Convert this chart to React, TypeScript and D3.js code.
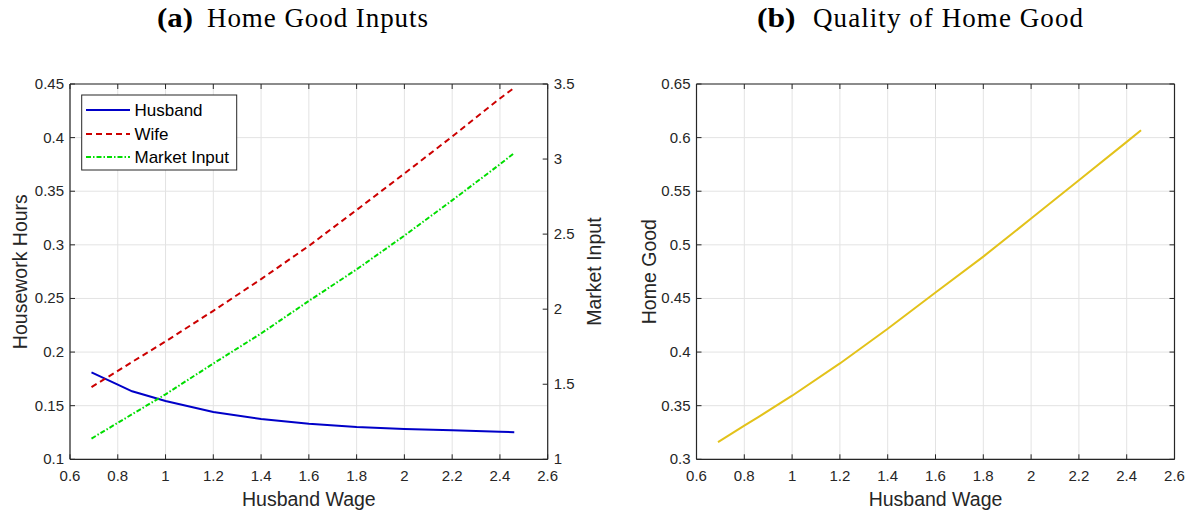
import React from "react";
import * as d3 from "d3";

// ---- data ----
const wage = [0.69, 0.8, 0.86, 1.0, 1.2, 1.4, 1.6, 1.8, 2.0, 2.2, 2.4, 2.46];
const husbandHours = [0.181, 0.1697, 0.1634, 0.1543, 0.1441, 0.1376, 0.1332, 0.1301, 0.1283, 0.1271, 0.1257, 0.1253];
const wifeHours = [0.1674, 0.1824, 0.1908, 0.2099, 0.2385, 0.268, 0.299, 0.3325, 0.3665, 0.401, 0.4365, 0.4465];
const marketInput = [1.138, 1.243, 1.3, 1.433, 1.638, 1.838, 2.055, 2.265, 2.49, 2.725, 2.965, 3.04];
const homeGood = [0.3161, 0.3314, 0.3396, 0.3593, 0.3894, 0.4217, 0.4556, 0.489, 0.5245, 0.5602, 0.596, 0.6068];

const xTicks = [0.6, 0.8, 1, 1.2, 1.4, 1.6, 1.8, 2, 2.2, 2.4, 2.6];
const hoursTicks = [0.1, 0.15, 0.2, 0.25, 0.3, 0.35, 0.4, 0.45];
const marketTicks = [1, 1.5, 2, 2.5, 3, 3.5];
const homeTicks = [0.3, 0.35, 0.4, 0.45, 0.5, 0.55, 0.6, 0.65];

const legendLabels = ["Husband", "Wife", "Market Input"];

const AX = "#262626";
const GRID = "#e3e3e3";
const SANS = "'Liberation Sans', Arial, Helvetica, sans-serif";
const SERIF = "'Liberation Serif', 'Times New Roman', serif";
const TICK_FS = 15;
const LABEL_FS = 19.5;
const TL = 5;

const BLUE = "#0000c8";
const RED = "#cc0000";
const GREEN = "#00dd00";
const YELLOW = "#e3c21a";

const fmt = (v: number) => String(+v.toFixed(3));

const top = 84;
const bottom = 459.3;

function Panel(props: {
  left: number;
  right: number;
  yDomain: [number, number];
  yTicks: number[];
  children: (x: d3.ScaleLinear<number, number>, y: d3.ScaleLinear<number, number>) => React.ReactNode;
  rightAxis?: boolean;
}) {
  const { left, right, yDomain, yTicks } = props;
  const x = d3.scaleLinear().domain([0.6, 2.6]).range([left, right]);
  const y = d3.scaleLinear().domain(yDomain).range([bottom, top]);
  return (
    <g>
      {xTicks.map((t, i) => (
        <line key={"gx" + i} x1={x(t)} x2={x(t)} y1={top} y2={bottom} stroke={GRID} strokeWidth={1} />
      ))}
      {yTicks.map((t, i) => (
        <line key={"gy" + i} x1={left} x2={right} y1={y(t)} y2={y(t)} stroke={GRID} strokeWidth={1} />
      ))}
      {props.children(x, y)}
      <line x1={left} x2={right} y1={bottom} y2={bottom} stroke={AX} strokeWidth={1.2} />
      <line x1={left} x2={right} y1={top} y2={top} stroke={AX} strokeWidth={1.2} />
      <line x1={left} x2={left} y1={top} y2={bottom} stroke={AX} strokeWidth={1.2} />
      <line x1={right} x2={right} y1={top} y2={bottom} stroke={AX} strokeWidth={1.2} />
      {xTicks.map((t, i) => (
        <g key={"xt" + i}>
          <line x1={x(t)} x2={x(t)} y1={bottom} y2={bottom - TL} stroke={AX} />
          <line x1={x(t)} x2={x(t)} y1={top} y2={top + TL} stroke={AX} />
          <text x={x(t)} y={bottom + 22} textAnchor="middle" fontFamily={SANS} fontSize={TICK_FS} fill={AX}>
            {fmt(t)}
          </text>
        </g>
      ))}
      {yTicks.map((t, i) => (
        <g key={"yt" + i}>
          <line x1={left} x2={left + TL} y1={y(t)} y2={y(t)} stroke={AX} />
          {!props.rightAxis && <line x1={right} x2={right - TL} y1={y(t)} y2={y(t)} stroke={AX} />}
          <text x={left - 6} y={y(t) + 5} textAnchor="end" fontFamily={SANS} fontSize={TICK_FS} fill={AX}>
            {fmt(t)}
          </text>
        </g>
      ))}
      <text x={(left + right) / 2} y={506} textAnchor="middle" fontFamily={SANS} fontSize={LABEL_FS} fill={AX}>
        Husband Wage
      </text>
    </g>
  );
}

export default function App() {
  const L1 = 70, R1 = 547.7;
  const L2 = 696.5, R2 = 1174.5;
  const yM = d3.scaleLinear().domain([1, 3.5]).range([bottom, top]);
  const legendY = [110, 134, 157];
  const legendColors = [BLUE, RED, GREEN];
  const legendDash = ["", "6,4", "5,2,1.5,2"];

  return (
    <div style={{ position: "absolute", left: 0, top: 0 }}>
      <svg width={1191} height={512} style={{ display: "block", background: "#fff" }}>
        <text x={157} y={27} fontFamily={SERIF} fontSize={27} fontWeight="bold" fill="#000" textLength={36} lengthAdjust="spacingAndGlyphs">(a)</text>
        <text x={207} y={27} fontFamily={SERIF} fontSize={27} fill="#000" textLength={221} lengthAdjust="spacing">Home Good Inputs</text>
        <text x={757} y={27} fontFamily={SERIF} fontSize={27} fontWeight="bold" fill="#000" textLength={38.5} lengthAdjust="spacingAndGlyphs">(b)</text>
        <text x={813} y={27} fontFamily={SERIF} fontSize={27} fill="#000" textLength={270} lengthAdjust="spacing">Quality of Home Good</text>

        <Panel left={L1} right={R1} yDomain={[0.1, 0.45]} yTicks={hoursTicks} rightAxis>
          {(x, y) => {
            const lineL = d3.line<number>().x((_, i) => x(wage[i])).y((d) => y(d));
            const lineR = d3.line<number>().x((_, i) => x(wage[i])).y((d) => yM(d));
            return (
              <g>
                <path d={lineL(husbandHours) || ""} fill="none" stroke={BLUE} strokeWidth={2} />
                <path d={lineL(wifeHours) || ""} fill="none" stroke={RED} strokeWidth={2} strokeDasharray="6,4" />
                <path d={lineR(marketInput) || ""} fill="none" stroke={GREEN} strokeWidth={2} strokeDasharray="5,2,1.5,2" />
              </g>
            );
          }}
        </Panel>
        {marketTicks.map((t, i) => (
          <g key={"mt" + i}>
            <line x1={R1} x2={R1 - TL} y1={yM(t)} y2={yM(t)} stroke={AX} />
            <text x={R1 + 6} y={yM(t) + 5} textAnchor="start" fontFamily={SANS} fontSize={TICK_FS} fill={AX}>
              {fmt(t)}
            </text>
          </g>
        ))}
        <text transform={`translate(27,${(top + bottom) / 2}) rotate(-90)`} textAnchor="middle" fontFamily={SANS} fontSize={LABEL_FS} fill={AX}>
          Housework Hours
        </text>
        <text transform={`translate(601,${(top + bottom) / 2}) rotate(-90)`} textAnchor="middle" fontFamily={SANS} fontSize={LABEL_FS} fill={AX}>
          Market Input
        </text>

        <rect x={81.7} y={95} width={155} height={75} fill="#fff" stroke={AX} strokeWidth={1} />
        {legendLabels.map((lab, i) => (
          <g key={"lg" + i}>
            <line x1={86} x2={130} y1={legendY[i]} y2={legendY[i]} stroke={legendColors[i]} strokeWidth={2} strokeDasharray={legendDash[i]} />
            <text x={134.5} y={legendY[i] + 6} fontFamily={SANS} fontSize={17} fill="#000">
              {lab}
            </text>
          </g>
        ))}

        <Panel left={L2} right={R2} yDomain={[0.3, 0.65]} yTicks={homeTicks}>
          {(x, y) => {
            const line = d3.line<number>().x((_, i) => x(wage[i])).y((d) => y(d));
            return <path d={line(homeGood) || ""} fill="none" stroke={YELLOW} strokeWidth={2} />;
          }}
        </Panel>
        <text transform={`translate(656,${(top + bottom) / 2}) rotate(-90)`} textAnchor="middle" fontFamily={SANS} fontSize={LABEL_FS} fill={AX}>
          Home Good
        </text>
      </svg>
    </div>
  );
}
